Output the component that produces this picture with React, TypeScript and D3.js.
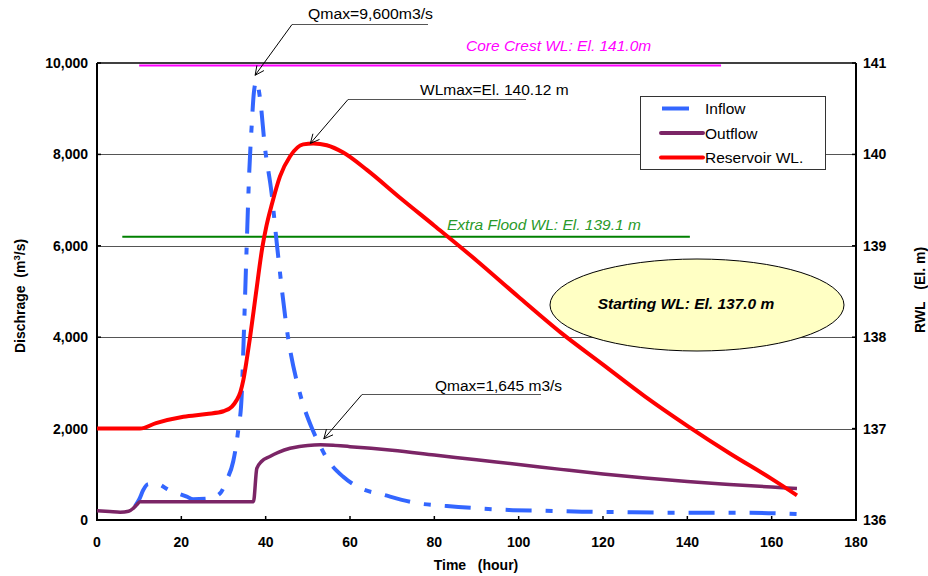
import React, { useEffect, useRef } from 'react';
import * as d3 from 'd3';

// Inflow hydrograph (hour, m3/s)
const inflowT = [9, 10, 11, 12, 14, 17, 21.3, 22.8, 26.8, 29.2, 30.8, 32.3, 33.5, 34.3, 34.8, 35.5, 36.1, 36.7, 37.2, 37.8, 38.7, 39.8, 41.4, 42.7, 45.3, 48.1, 51, 52.5, 54.5, 58.4, 62.4, 68, 75.8, 83, 90.4, 97.7, 105.6, 115, 125, 135, 145, 155, 166];
const inflowQ = [300, 450, 660, 780, 800, 660, 510, 455, 475, 585, 880, 1280, 1970, 2700, 4000, 6000, 7600, 8650, 9350, 9600, 9200, 8175, 7155, 6000, 4000, 2780, 2000, 1700, 1350, 945, 700, 550, 370, 305, 255, 219, 204, 182, 170, 160, 160, 158, 131];

// Outflow hydrograph (hour, m3/s)
const outflowT = [0, 3, 5.5, 7.5, 8.6, 9.5, 10.2, 37.1, 37.9, 39, 41, 43, 45.8, 48, 50, 53, 56, 60, 65, 70, 80, 90, 100, 110, 120, 130, 140, 150, 160, 166];
const outflowQ = [205, 185, 170, 190, 256, 340, 400, 400, 1130, 1280, 1390, 1480, 1570, 1610, 1632, 1645, 1638, 1605, 1568, 1525, 1422, 1318, 1215, 1108, 1005, 918, 840, 778, 722, 690];

// Reservoir water level (hour, El. m)
const wlT = [0, 10.2, 14, 20.5, 26, 30, 32, 33.1, 34, 34.7, 35.5, 36.3, 37.7, 39.2, 40.2, 41.5, 43.4, 45.8, 48.9, 51.3, 54.5, 58.4, 64, 72, 80, 90, 100, 110, 120, 130, 140, 150, 160, 166];
const wlE = [137.0, 137.0, 137.06, 137.13, 137.16, 137.19, 137.24, 137.31, 137.4, 137.53, 137.75, 138.0, 138.48, 138.98, 139.22, 139.46, 139.76, 139.98, 140.11, 140.12, 140.1, 140.02, 139.83, 139.52, 139.22, 138.84, 138.44, 138.05, 137.7, 137.35, 137.03, 136.73, 136.45, 136.27];

const xTicks = [0, 20, 40, 60, 80, 100, 120, 140, 160, 180];
const yLeftTicks = [0, 2000, 4000, 6000, 8000, 10000];
const yRightTicks = [136, 137, 138, 139, 140, 141];
const legendNames = ['Inflow', 'Outflow', 'Reservoir WL.'];

// reference levels
const coreCrest = { wl: 141.0, t0: 10, t1: 148, label: 'Core Crest WL: El. 141.0m' };
const extraFlood = { wl: 139.1, t0: 6, t1: 140.6, label: 'Extra Flood WL: El. 139.1 m' };

const FONT = "Arial, 'Liberation Sans', sans-serif";

export default function App() {
  const svgRef = useRef<SVGSVGElement>(null);

  useEffect(() => {
    const svg = d3.select(svgRef.current);
    svg.selectAll('*').remove();

    const x = d3.scaleLinear().domain([0, 180]).range([97, 856]);
    const yL = d3.scaleLinear().domain([0, 10000]).range([520, 63]);
    const yR = d3.scaleLinear().domain([136, 141]).range([520, 63]);
    const fmt = d3.format(',');

    // gridlines
    svg.append('g').selectAll('line')
      .data(yLeftTicks.filter(v => v > 0 && v < 10000))
      .join('line')
      .attr('x1', x(0)).attr('x2', x(180))
      .attr('y1', d => Math.round(yL(d)) + 0.5).attr('y2', d => Math.round(yL(d)) + 0.5)
      .attr('stroke', '#555').attr('stroke-width', 1);

    // frame
    svg.append('line').attr('x1', x(0)).attr('x2', x(180)).attr('y1', yL(10000)).attr('y2', yL(10000))
      .attr('stroke', '#000').attr('stroke-width', 1.5);
    svg.append('line').attr('x1', x(0)).attr('x2', x(0)).attr('y1', yL(0)).attr('y2', yL(10000))
      .attr('stroke', '#000').attr('stroke-width', 2);
    svg.append('line').attr('x1', x(180)).attr('x2', x(180)).attr('y1', yL(0)).attr('y2', yL(10000))
      .attr('stroke', '#000').attr('stroke-width', 2);
    svg.append('line').attr('x1', x(0) - 1).attr('x2', x(180) + 1).attr('y1', yL(0)).attr('y2', yL(0))
      .attr('stroke', '#000').attr('stroke-width', 2);

    // ticks + labels
    const tickStyle = (s: any) => s.attr('font-family', FONT).attr('font-size', 14).attr('font-weight', 'bold').attr('fill', '#000');
    xTicks.forEach(t => {
      svg.append('line').attr('x1', x(t)).attr('x2', x(t)).attr('y1', yL(0)).attr('y2', yL(0) - 4).attr('stroke', '#000').attr('stroke-width', 1.5);
      svg.append('text').attr('x', x(t)).attr('y', 546.5).attr('text-anchor', 'middle').call(tickStyle).text(t);
    });
    yLeftTicks.forEach(v => {
      svg.append('line').attr('x1', x(0)).attr('x2', x(0) + 4).attr('y1', yL(v)).attr('y2', yL(v)).attr('stroke', '#000').attr('stroke-width', 1.5);
      svg.append('text').attr('x', 88).attr('y', yL(v) + 5).attr('text-anchor', 'end').call(tickStyle).text(fmt(v));
    });
    yRightTicks.forEach(v => {
      svg.append('line').attr('x1', x(180)).attr('x2', x(180) - 4).attr('y1', yR(v)).attr('y2', yR(v)).attr('stroke', '#000').attr('stroke-width', 1.5);
      svg.append('text').attr('x', 863).attr('y', yR(v) + 5).attr('text-anchor', 'start').call(tickStyle).text(v);
    });

    // axis titles
    svg.append('text').attr('x', 476).attr('y', 570).attr('text-anchor', 'middle').call(tickStyle)
      .text('Time\u00a0\u00a0\u00a0(hour)');
    const lt = svg.append('text').attr('transform', 'translate(25,296) rotate(-90)').attr('text-anchor', 'middle').call(tickStyle);
    lt.append('tspan').text('Dischrage\u00a0\u00a0(m');
    lt.append('tspan').attr('font-size', 9.5).attr('dy', -5).text('3');
    lt.append('tspan').attr('dy', 5).text('/s)');
    svg.append('text').attr('transform', 'translate(925,290) rotate(-90)').attr('text-anchor', 'middle').call(tickStyle)
      .text('RWL\u00a0\u00a0\u00a0(El. m)');

    // reference levels
    svg.append('line').attr('x1', x(coreCrest.t0)).attr('x2', x(coreCrest.t1))
      .attr('y1', yR(coreCrest.wl) + 2.5).attr('y2', yR(coreCrest.wl) + 2.5)
      .attr('stroke', '#ff00ff').attr('stroke-width', 2);
    svg.append('text').attr('x', 466).attr('y', 51).attr('font-family', FONT).attr('font-size', 15.5)
      .attr('font-style', 'italic').attr('fill', '#ff00ff').text(coreCrest.label);
    svg.append('line').attr('x1', x(extraFlood.t0)).attr('x2', x(extraFlood.t1))
      .attr('y1', yR(extraFlood.wl)).attr('y2', yR(extraFlood.wl))
      .attr('stroke', '#008000').attr('stroke-width', 2);
    svg.append('text').attr('x', 447).attr('y', 230).attr('font-family', FONT).attr('font-size', 15.5)
      .attr('font-style', 'italic').attr('fill', '#2a9a2a').text(extraFlood.label);

    // series
    const lineQ = d3.line<[number, number]>().x(d => x(d[0])).y(d => yL(d[1])).curve(d3.curveMonotoneX);
    const lineW = d3.line<[number, number]>().x(d => x(d[0])).y(d => yR(d[1])).curve(d3.curveMonotoneX);
    const inflow = inflowT.map((t, i) => [t, inflowQ[i]] as [number, number]);
    const outflow = outflowT.map((t, i) => [t, outflowQ[i]] as [number, number]);
    const wl = wlT.map((t, i) => [t, wlE[i]] as [number, number]);

    svg.append('path').attr('d', lineQ(inflow)).attr('fill', 'none').attr('stroke', '#3366ff')
      .attr('stroke-width', 4).attr('stroke-dasharray', '26,14,7,14');
    svg.append('path').attr('d', lineQ(outflow)).attr('fill', 'none').attr('stroke', '#7b2566')
      .attr('stroke-width', 3.5).attr('stroke-linejoin', 'round');
    svg.append('path').attr('d', lineW(wl)).attr('fill', 'none').attr('stroke', '#ff0000')
      .attr('stroke-width', 4).attr('stroke-linejoin', 'round');

    // starting WL ellipse
    svg.append('ellipse').attr('cx', 697).attr('cy', 305).attr('rx', 147).attr('ry', 46)
      .attr('fill', '#ffffc4').attr('stroke', '#000').attr('stroke-width', 1);
    svg.append('text').attr('x', 686).attr('y', 308.5).attr('text-anchor', 'middle').attr('font-family', FONT)
      .attr('font-size', 15.5).attr('font-weight', 'bold').attr('font-style', 'italic').text('Starting WL: El. 137.0 m');

    // annotations
    const annot = (label: string, tip: [number, number], knee: [number, number], lineEnd: number, tx: number, ty: number, tlen?: number) => {
      const g = svg.append('g');
      g.append('line').attr('x1', knee[0]).attr('x2', lineEnd).attr('y1', knee[1]).attr('y2', knee[1]).attr('stroke', '#555').attr('stroke-width', 1);
      g.append('line').attr('x1', knee[0]).attr('y1', knee[1]).attr('x2', tip[0]).attr('y2', tip[1]).attr('stroke', '#000').attr('stroke-width', 1);
      const ang = Math.atan2(tip[1] - knee[1], tip[0] - knee[0]);
      const len = 10, spread = 0.45;
      const p1 = [tip[0] - len * Math.cos(ang - spread), tip[1] - len * Math.sin(ang - spread)];
      const p2 = [tip[0] - len * Math.cos(ang + spread), tip[1] - len * Math.sin(ang + spread)];
      g.append('path').attr('d', `M${p1[0]},${p1[1]}L${tip[0]},${tip[1]}L${p2[0]},${p2[1]}`)
        .attr('fill', 'none').attr('stroke', '#000').attr('stroke-width', 1);
      const txt = g.append('text').attr('x', tx).attr('y', ty).attr('font-family', FONT).attr('font-size', 15.5).attr('fill', '#000').text(label);
      if (tlen) txt.attr('textLength', tlen).attr('lengthAdjust', 'spacingAndGlyphs');
    };
    annot('Qmax=9,600m3/s', [x(37.5), yL(9600) - 6], [292, 24.5], 428, 308, 18.5, 125);
    annot('WLmax=El. 140.12 m', [x(50.6), yR(140.12)], [348, 99.5], 526, 420, 95);
    annot('Qmax=1,645 m3/s', [x(53.8), yL(1645) - 6], [362, 394.5], 541, 435, 390.5);

    // legend
    const lg = svg.append('g');
    lg.append('rect').attr('x', 640.5).attr('y', 96.5).attr('width', 185).attr('height', 73)
      .attr('fill', '#fff').attr('stroke', '#333').attr('stroke-width', 1);
    const colors = ['#3366ff', '#7b2566', '#ff0000'];
    legendNames.forEach((n, i) => {
      const yy = 108.5 + i * 24.5;
      lg.append('line').attr('x1', i === 0 ? 662 : 661).attr('x2', i === 0 ? 689 : 703).attr('y1', yy).attr('y2', yy)
        .attr('stroke', colors[i]).attr('stroke-width', 4).attr('stroke-linecap', i === 0 ? 'butt' : 'round');
      lg.append('text').attr('x', 705).attr('y', yy + 5.5).attr('font-family', FONT).attr('font-size', 15.5).attr('fill', '#000').text(n);
    });
  }, []);

  return (
    <svg ref={svgRef} width={928} height={576}
      style={{ position: 'absolute', left: 0, top: 0, background: '#fff', display: 'block' }} />
  );
}
